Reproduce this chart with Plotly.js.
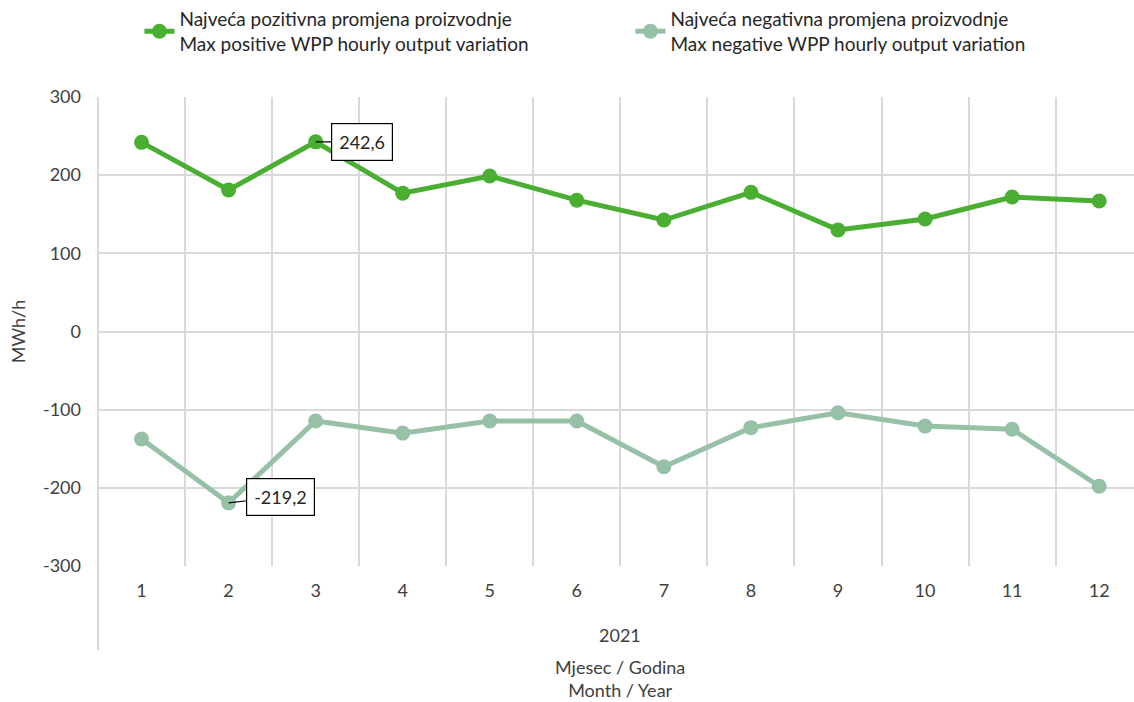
<!DOCTYPE html>
<html>
<head>
<meta charset="utf-8">
<script src="https://cdn.plot.ly/plotly-3.0.1.min.js"></script>
<style>html,body{margin:0;padding:0;background:#fff;} #chart{width:1134px;height:702px;}</style>
</head>
<body>
<div id="chart"></div>
<script>
const months = [1,2,3,4,5,6,7,8,9,10,11,12];
const positiveVar = [242, 181, 242.6, 177, 199, 168, 142.6, 178, 130, 144, 172, 167];
const negativeVar = [-137.5, -219.2, -114.5, -130, -114.5, -114.5, -173, -123, -104, -121, -125, -198];
const yTickVals = [-300, -200, -100, 0, 100, 200, 300];
const yTickText = ["-300", "-200", "-100", "0", "100", "200", "300"];
const seriesNames = [
  "Najveća pozitivna promjena proizvodnje<br>Max positive WPP hourly output variation",
  "Najveća negativna promjena proizvodnje<br>Max negative WPP hourly output variation"
];
const yearLabel = "2021";
const xTitle = "Mjesec / Godina<br>Month / Year";
const yTitle = "MWh/h";

const FONT = "Lato, 'Open Sans', sans-serif";
const GREEN = "#4AAE33";
const SAGE = "#97C1A7";
const GRID = "#D9D9D9";
const TXT = "#404040";

const traces = [
  {x: months, y: positiveVar, name: seriesNames[0], type: "scatter", mode: "lines+markers",
   line: {color: GREEN, width: 5}, marker: {color: GREEN, size: 15}},
  {x: months, y: negativeVar, name: seriesNames[1], type: "scatter", mode: "lines+markers",
   line: {color: SAGE, width: 5}, marker: {color: SAGE, size: 15}}
];

const layout = {
  width: 1134, height: 702,
  margin: {l: 98, r: 0, t: 97, b: 136},
  paper_bgcolor: "#fff", plot_bgcolor: "#fff",
  font: {family: FONT, size: 18, color: TXT},
  showlegend: true,
  legend: {orientation: "h", x: 0.04, y: 1.208, xanchor: "left", yanchor: "top",
           font: {family: FONT, size: 19, color: "#262626"}, entrywidth: 446, tracegroupgap: 0},
  xaxis: {range: [0.5, 12.4], tickvals: months, ticktext: months.map(String),
          showgrid: false, zeroline: false, showline: false, ticks: "",
          ticklabelstandoff: 12,
          minor: {tick0: 0.5, dtick: 1, showgrid: true, gridcolor: GRID, gridwidth: 2, ticks: ""},
          tickfont: {family: FONT, size: 18, color: TXT}, fixedrange: true},
  yaxis: {range: [-300, 300], tickvals: yTickVals, ticktext: yTickText,
          showgrid: true, gridcolor: GRID, gridwidth: 2,
          zeroline: false, showline: false, ticks: "", ticklabelstandoff: 16,
          tickfont: {family: FONT, size: 18, color: TXT},
          title: {text: yTitle, font: {family: FONT, size: 18, color: TXT}, standoff: 12}},
  shapes: [
    {type: "line", xref: "paper", yref: "paper", x0: 0, x1: 0, y0: 1, y1: -0.179,
     line: {color: GRID, width: 2}}
  ],
  annotations: [
    {xref: "x", yref: "paper", x: 6.5, y: -0.147, yanchor: "middle", text: yearLabel, showarrow: false,
     font: {family: FONT, size: 18, color: TXT}},
    {xref: "x", yref: "paper", x: 6.5, y: -0.187, yanchor: "top", text: xTitle, showarrow: false,
     font: {family: FONT, size: 18, color: TXT}},
    {xref: "x", yref: "y", x: months[2], y: positiveVar[2], text: "242,6", showarrow: true,
     arrowhead: 0, arrowwidth: 1.2, arrowcolor: "#000", ax: 46, ay: 0,
     bgcolor: "#fff", bordercolor: "#000", borderwidth: 1.2, borderpad: 7,
     font: {family: FONT, size: 18, color: "#262626"}},
    {xref: "x", yref: "y", x: months[1], y: negativeVar[1], text: "-219,2", showarrow: true,
     arrowhead: 0, arrowwidth: 1.2, arrowcolor: "#000", ax: 52, ay: -6,
     bgcolor: "#fff", bordercolor: "#000", borderwidth: 1.2, borderpad: 7,
     font: {family: FONT, size: 18, color: "#262626"}}
  ]
};

Plotly.newPlot("chart", traces, layout, {displayModeBar: false, staticPlot: true});
</script>
</body>
</html>
